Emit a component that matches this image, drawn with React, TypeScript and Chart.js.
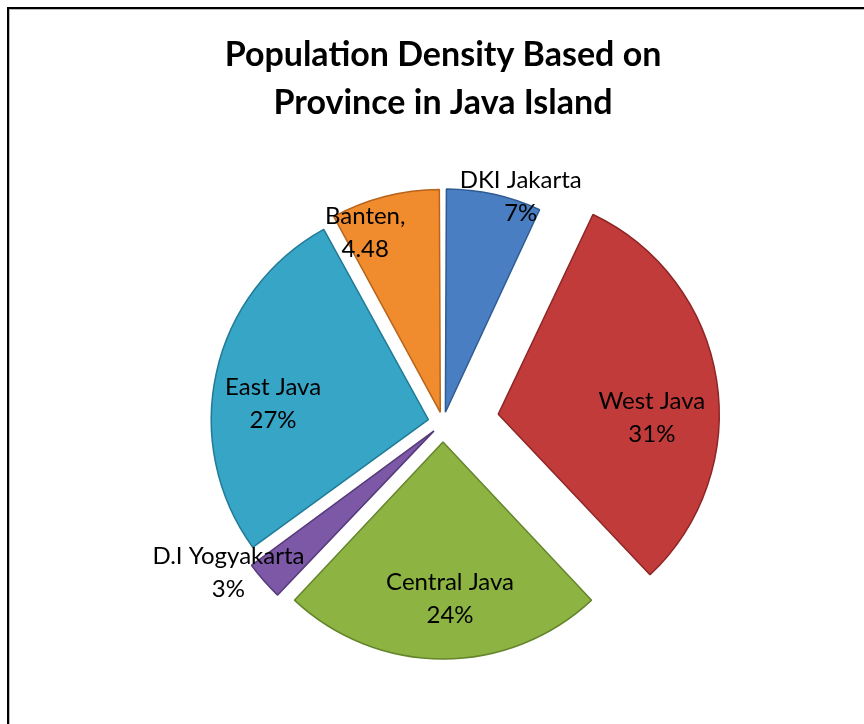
import React, { useEffect, useRef } from "react";
import { Chart, registerables } from "chart.js";

Chart.register(...registerables);

// ---- data ----
const provinces = ["DKI Jakarta", "West Java", "Central Java", "D.I Yogyakarta", "East Java", "Banten"];
const shares = [7, 31, 24, 3, 27, 8];
const labelNames = ["DKI Jakarta", "West Java", "Central Java", "D.I Yogyakarta", "East Java", "Banten,"];
const labelValues = ["7%", "31%", "24%", "3%", "27%", "4.48"];
const titleLines = ["Population Density Based on", "Province in Java Island"];

// ---- styles / layout ----
const sliceColors = ["#4a7ec2", "#c23b3b", "#8db443", "#7c58a6", "#37a5c6", "#f08b2e"];
const sliceEdges = ["#2f5b93", "#8e2626", "#64852b", "#553a7a", "#217a96", "#b8651c"];
const sliceOffsets = [44, 224, 76, 48, 60, 44];
const labelReach = [1.1, 0.963, 0.811, 1.207, 0.788, 0.945];
const labelTurn = [6.4, 7.6, -2.3, 6.4, -6.2, -7.9];

function shade(hex: string, amt: number) {
  const n = parseInt(hex.slice(1), 16);
  let r = (n >> 16) & 255, g = (n >> 8) & 255, b = n & 255;
  const f = (v: number) => Math.max(0, Math.min(255, Math.round(amt >= 0 ? v + (255 - v) * amt : v * (1 + amt))));
  r = f(r); g = f(g); b = f(b);
  return `rgb(${r},${g},${b})`;
}

const labelPlugin = {
  id: "sliceLabels",
  afterDatasetsDraw(chart: any) {
    const meta = chart.getDatasetMeta(0);
    const c = chart.ctx;
    c.save();
    c.font = "24px Lato";
    c.fillStyle = "#000";
    c.textAlign = "center";
    c.textBaseline = "middle";
    meta.data.forEach((arc: any, i: number) => {
      const p = arc.getProps(["x", "y", "startAngle", "endAngle", "outerRadius"], true);
      const mid = (p.startAngle + p.endAngle) / 2 + (labelTurn[i] * Math.PI) / 180;
      const r = p.outerRadius * labelReach[i];
      const x = p.x + Math.cos(mid) * r;
      const y = p.y + Math.sin(mid) * r;
      c.fillText(labelNames[i], x, y - 16.5);
      c.fillText(labelValues[i], x, y + 16.5);
    });
    c.restore();
  },
};

export default function App() {
  const ref = useRef<HTMLCanvasElement>(null);
  useEffect(() => {
    if (!ref.current) return;
    const chart = new Chart(ref.current, {
      type: "pie",
      data: {
        labels: provinces,
        datasets: [
          {
            data: shares,
            backgroundColor: (ctx: any) => {
              const i = ctx.dataIndex;
              const base = sliceColors[i];
              const arc = ctx.chart.getDatasetMeta(0).data[i];
              if (!arc || !arc.outerRadius) return base;
              const g = ctx.chart.ctx.createRadialGradient(arc.x, arc.y, 0, arc.x, arc.y, arc.outerRadius + 10);
              g.addColorStop(0, shade(base, 0.08));
              g.addColorStop(0.85, base);
              g.addColorStop(0.96, shade(base, -0.12));
              g.addColorStop(1, shade(base, -0.2));
              return g;
            },
            borderColor: sliceEdges,
            borderWidth: 1.5,
            offset: sliceOffsets,
          } as any,
        ],
      },
      options: {
        responsive: false,
        animation: false,
        radius: 217,
        layout: { padding: { left: 22, right: 0, top: 0, bottom: 5 } },
        plugins: {
          legend: { display: false },
          tooltip: { enabled: false },
          title: {
            display: true,
            text: titleLines,
            color: "#000",
            font: { family: "Lato", size: 34, weight: "bold", lineHeight: 1.41 },
            padding: { top: 31, bottom: 0 },
          },
        },
      } as any,
      plugins: [labelPlugin],
    });
    return () => chart.destroy();
  }, []);

  return (
    <div style={{ position: "fixed", left: 0, top: 0, width: 864, height: 724, overflow: "hidden", background: "#fff" }}>
      <div
        style={{
          position: "absolute",
          left: 7,
          top: 7,
          width: 1000,
          height: 1000,
          borderLeft: "2px solid #000",
          borderTop: "2px solid #000",
          boxShadow: "1px 1px 0 #bbb inset",
        }}
      />
      <canvas ref={ref} width={864} height={724} style={{ position: "absolute", left: 0, top: 0 }} />
    </div>
  );
}
